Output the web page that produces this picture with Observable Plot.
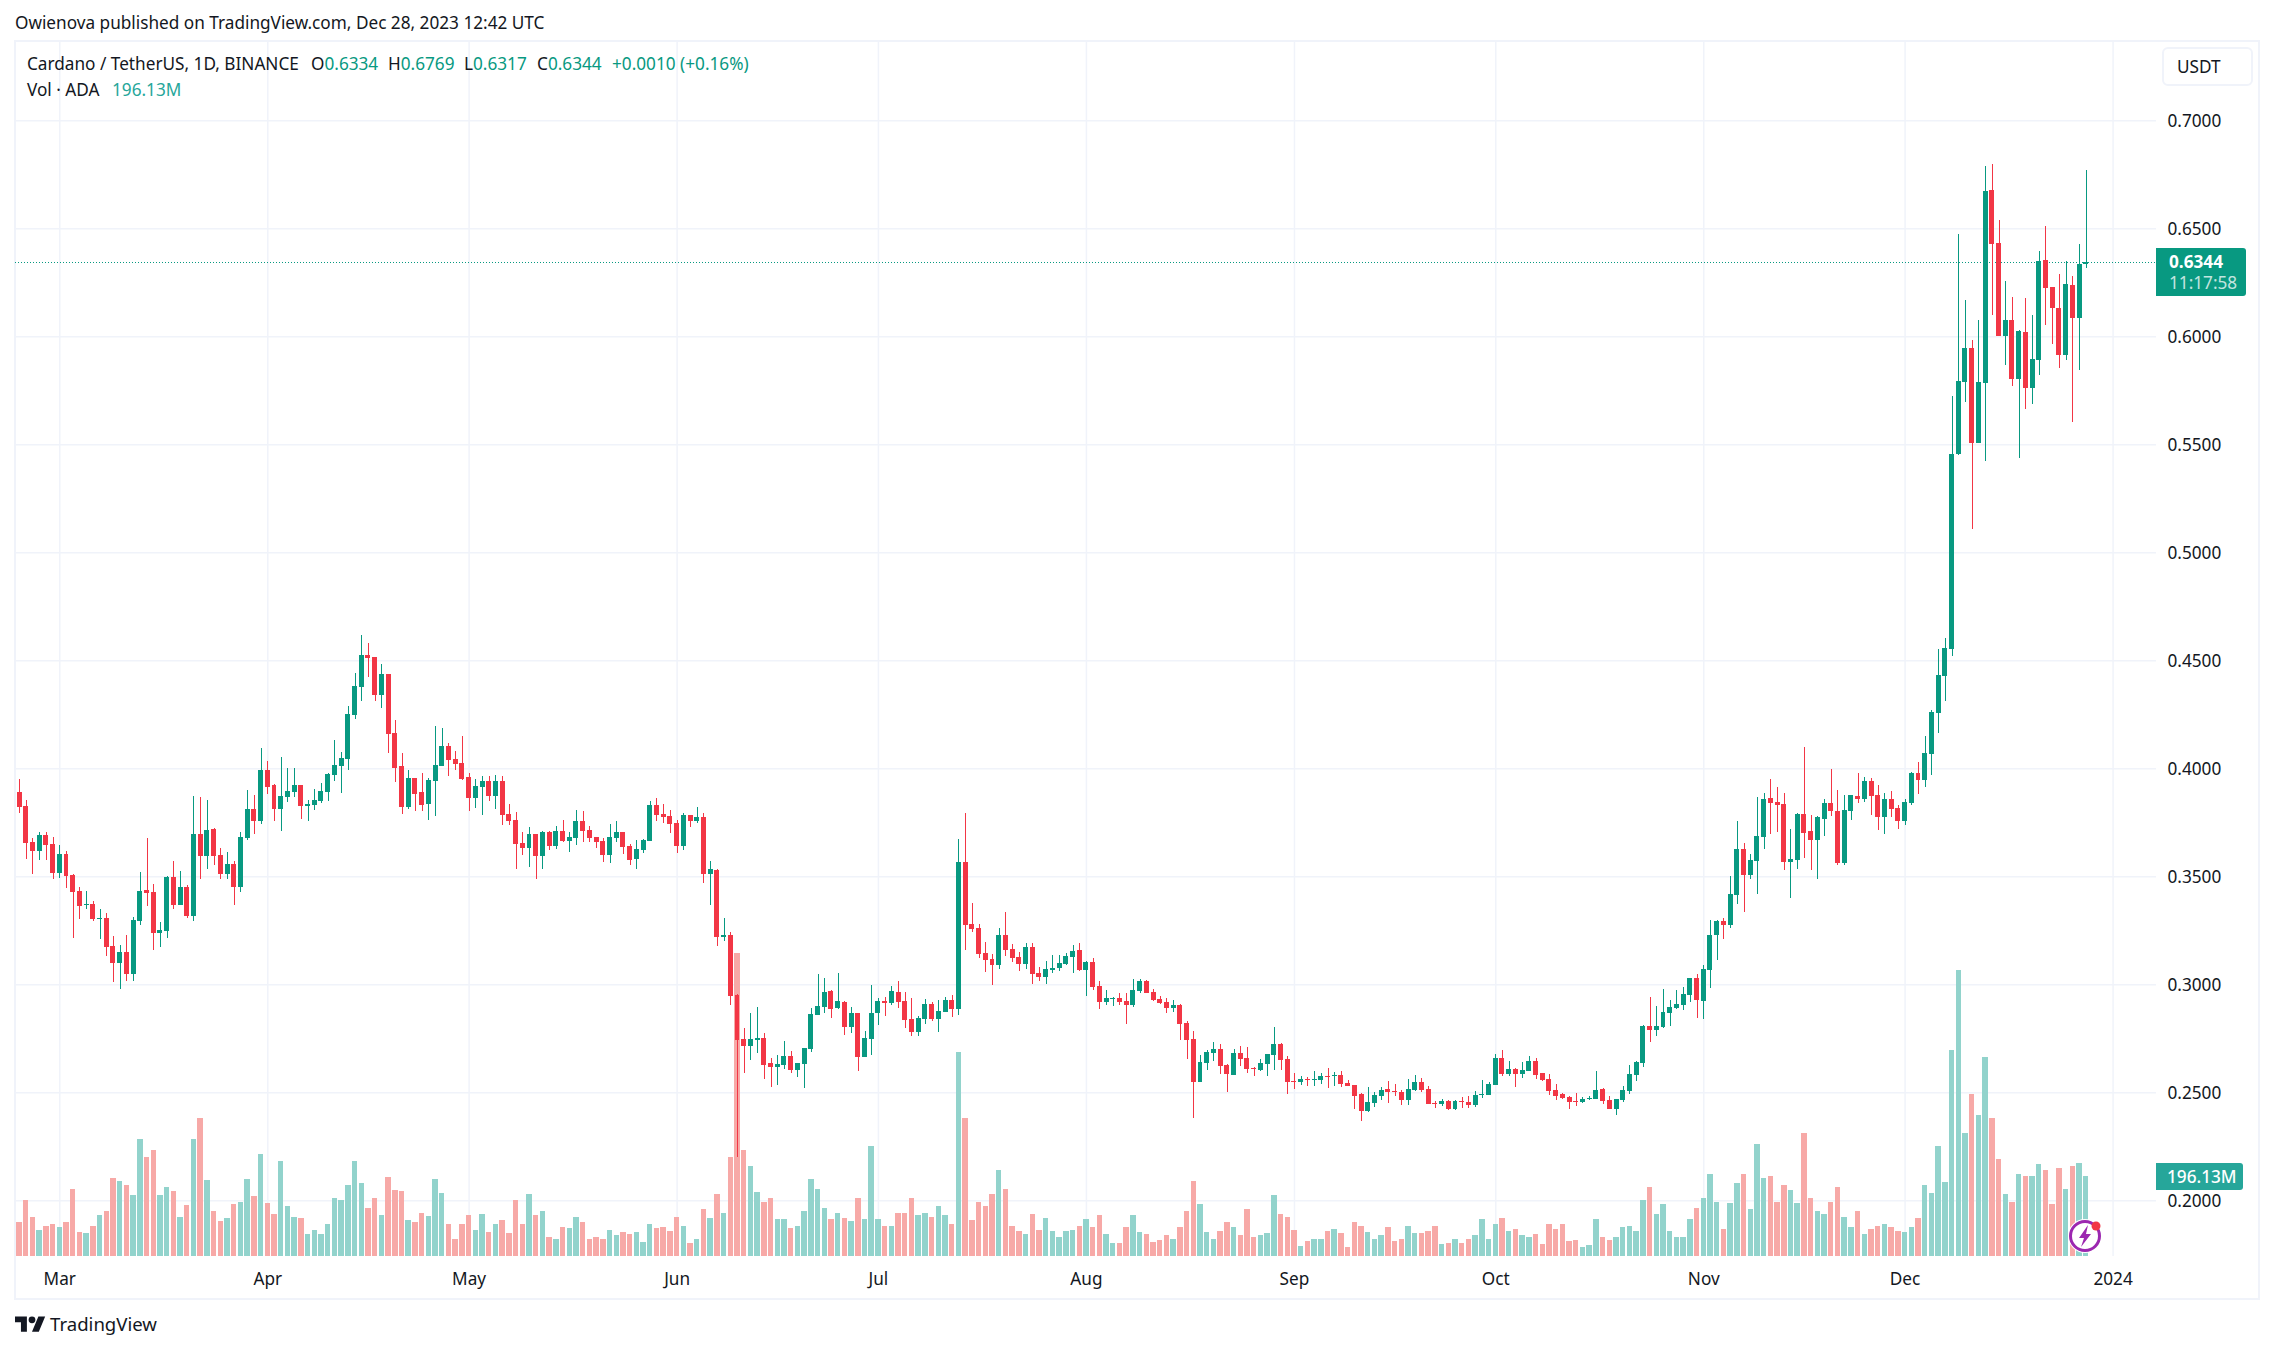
<!DOCTYPE html>
<html><head><meta charset="utf-8">
<script src="https://cdn.jsdelivr.net/npm/d3@7"></script>
<script src="https://cdn.jsdelivr.net/npm/@observablehq/plot@0.6"></script>
<style>
html,body{margin:0;padding:0;background:#fff;width:2273px;height:1351px;overflow:hidden}
body{position:relative;font-family:"Noto Sans",sans-serif;color:#131722;font-size:17.2px}
#frame{position:absolute;left:14px;top:40px;width:2242px;height:1256px;border:2px solid #f0f3fa}
#chart{position:absolute;left:0;top:0}
.t{position:absolute;white-space:pre;line-height:1}
.u{color:#089981}.v{color:#26a69a}
#pbox{position:absolute;left:2156px;top:248px;width:90px;height:48px;background:#089981;border-radius:0 3px 3px 0;color:#fff}
#vbox{position:absolute;left:2156px;top:1163px;width:87px;height:27px;background:#26a69a;border-radius:0 3px 3px 0;color:#fff}
#usdt{position:absolute;left:2162px;top:47px;width:74px;height:35px;padding-left:13px;border:2px solid #f0f3fa;border-radius:6px;text-align:left;line-height:35px}
</style></head><body>
<div id="frame"></div>
<div id="chart"></div>
<div class="t" style="left:15px;top:14px">Owienova published on TradingView.com, Dec 28, 2023 12:42 UTC</div>
<div class="t" style="left:27px;top:55px">Cardano / TetherUS, 1D, BINANCE</div>
<div class="t" style="left:311px;top:55px">O<span class="u">0.6334</span></div>
<div class="t" style="left:388px;top:55px">H<span class="u">0.6769</span></div>
<div class="t" style="left:464px;top:55px">L<span class="u">0.6317</span></div>
<div class="t" style="left:537px;top:55px">C<span class="u">0.6344</span></div>
<div class="t u" style="left:612px;top:55px">+0.0010 (+0.16%)</div>
<div class="t" style="left:27px;top:81px">Vol · ADA</div>
<div class="t v" style="left:112px;top:81px">196.13M</div>
<div id="usdt">USDT</div>
<div id="pbox"><div class="t" style="left:13px;top:5px;font-weight:700">0.6344</div><div class="t" style="left:13px;top:26px;opacity:.75">11:17:58</div></div>
<div id="vbox"><div class="t" style="left:11px;top:5px;font-weight:500">196.13M</div></div>
<svg style="position:absolute;left:15px;top:1312.6px" width="30.6" height="23.8" viewBox="0 0 36 28"><path fill="#131722" d="M14 22H7V11H0V4h14v18zM28 22h-8l7.5-18h8L28 22z"/><circle fill="#131722" cx="20" cy="8" r="4"/></svg>
<div class="t" style="left:50px;top:1315px;font-size:18.6px">TradingView</div>
<svg style="position:absolute;left:2065px;top:1216px" width="40" height="40" viewBox="0 0 40 40">
<circle cx="20" cy="20" r="17" fill="#fff"/><circle cx="20" cy="20" r="14.5" fill="none" stroke="#9c27b0" stroke-width="3"/>
<path d="M23 9 L14 22 H19 L16 31 L26 18 H21 Z" fill="#9c27b0"/><circle cx="31" cy="10" r="4.5" fill="#f23645"/></svg>
<script>
const firstDay = new Date(Date.UTC(2023, 1, 23));
const opens = [.3890,.3826,.3659,.3617,.3691,.3650,.3515,.3603,.3506,.3432,
.3367,.3372,.3303,.3307,.3178,.3099,.3150,.3048,.3293,.3437,
.3427,.3238,.3247,.3497,.3367,.3451,.3316,.3696,.3594,.3719,
.3599,.3511,.3557,.3451,.3677,.3812,.3756,.3992,.3923,.3812,
.3867,.3890,.3923,.3826,.3830,.3849,.3890,.3969,.4011,.4043,
.4247,.4377,.4525,.4515,.4340,.4437,.4164,.4011,.3821,.3955,
.3890,.3835,.3941,.4011,.4103,.4043,.4025,.3960,.3863,.3914,.3941,.3872,
.3941,.3789,.3761,.3654,.3631,.3696,.3594,.3705,.3640,.3710,
.3664,.3677,.3756,.3715,.3682,.3664,.3599,.3677,.3705,.3640,
.3580,.3622,.3664,.3830,.3789,.3779,.3747,.3640,.3784,.3756,
.3775,.3511,.3529,.3219,.3228,.2951,.2747,.2715,.2742,.2752,
.2636,.2617,.2627,.2668,.2603,.2631,.2701,.2858,.2895,.2969,
.2890,.2918,.2802,.2867,.2664,.2747,.2867,.2923,.2914,.2965,
.2923,.2840,.2779,.2840,.2909,.2840,.2872,.2927,.2886,.3566,
.3279,.3261,.3145,.3117,.3090,
.3228,.3164,.3127,.3094,.3173,.3052,.3034,.3066,.3076,.3094,
.3127,.3159,.3066,.3103,.2992,.2918,.2932,.2937,.2923,.2904,
.2969,.3015,.2965,.2932,.2918,.2890,.2904,.2821,.2747,.2548,
.2636,.2682,.2701,.2627,.2580,.2682,.2659,.2613,.2603,.2631,
.2673,.2724,.2654,.2552,.2548,.2562,.2557,.2557,.2576,.2576,
.2580,.2543,.2534,.2492,.2414,.2451,.2483,.2515,.2506,.2502,
.2465,.2511,.2548,.2515,.2451,.2446,.2460,.2423,.2460,.2455,
.2441,.2488,.2488,.2534,
.2659,.2585,.2608,.2585,.2599,.2645,.2590,.2562,.2511,.2492,
.2478,.2460,.2455,.2469,.2469,.2515,.2465,.2423,.2465,.2506,
.2580,.2636,.2807,.2789,.2802,.2867,.2889,.2904,.2951,.3029,
.2923,.3066,.3228,.3293,.3275,.3414,.3627,.3506,.3571,.3682,
.3863,.3844,.3835,.3566,.3576,.3789,.3710,.3668,.3765,.3840,
.3802,.3562,.3802,.3872,.3858,.3941,.3877,.3775,.3858,.3816,
.3756,.3840,.3978,.3946,.4066,.4256,.4429,.4553,.5456,.5786,
.5948,.5504,.5782,.6679,.6433,.6000,.6077,.5800,.6022,.5761,
.5888,.6355,.6226,.6132,.5915,.6238,.6083,.6334];
const closes = [.3821,.3654,.3617,.3691,.3645,.3515,.3603,.3502,.3427,.3363,
.3372,.3303,.3307,.3173,.3099,.3150,.3048,.3298,.3432,.3423,
.3238,.3252,.3497,.3367,.3451,.3316,.3696,.3594,.3715,.3594,
.3511,.3557,.3451,.3682,.3812,.3756,.3992,.3914,.3812,.3872,
.3895,.3923,.3826,.3835,.3853,.3895,.3974,.4015,.4048,.4252,
.4381,.4525,.4511,.4340,.4437,.4159,.4002,.3821,.3955,.3881,
.3830,.3946,.4015,.4103,.4039,.4020,.3951,.3863,.3918,.3941,.3872,.3941,
.3784,.3756,.3650,.3631,.3696,.3594,.3705,.3640,.3710,.3664,
.3682,.3756,.3710,.3677,.3659,.3599,.3682,.3705,.3636,.3576,
.3627,.3668,.3830,.3784,.3775,.3742,.3640,.3784,.3756,.3775,
.3511,.3534,.3219,.3228,.2946,.2742,.2715,.2747,.2752,.2627,
.2617,.2631,.2668,.2603,.2636,.2705,.2863,.2900,.2965,.2886,
.2923,.2802,.2867,.2664,.2752,.2867,.2923,.2914,.2969,.2918,
.2835,.2779,.2844,.2909,.2840,.2877,.2927,.2886,.3566,.3275,
.3256,.3140,.3113,.3090,.3228,
.3159,.3122,.3094,.3173,.3048,.3034,.3071,.3076,.3099,.3131,
.3154,.3066,.3103,.2988,.2918,.2937,.2937,.2918,.2904,.2974,
.3015,.2960,.2927,.2914,.2890,.2904,.2816,.2742,.2548,.2640,
.2687,.2701,.2622,.2585,.2682,.2654,.2608,.2608,.2636,.2677,
.2724,.2650,.2548,.2548,.2562,.2557,.2562,.2576,.2571,.2580,
.2539,.2529,.2483,.2414,.2455,.2488,.2511,.2502,.2502,.2465,
.2515,.2548,.2511,.2446,.2446,.2460,.2423,.2460,.2455,.2441,
.2488,.2492,.2539,.2659,
.2585,.2608,.2585,.2603,.2645,.2580,.2557,.2506,.2483,.2474,
.2455,.2455,.2469,.2474,.2511,.2460,.2423,.2469,.2511,.2585,
.2640,.2807,.2789,.2807,.2872,.2895,.2909,.2955,.3029,.2927,
.3071,.3228,.3293,.3275,.3418,.3627,.3506,.3576,.3687,.3858,
.3840,.3830,.3566,.3580,.3789,.3701,.3668,.3775,.3840,.3802,
.3562,.3807,.3877,.3858,.3941,.3872,.3775,.3858,.3812,.3756,
.3844,.3978,.3946,.4071,.4261,.4433,.4557,.5456,.5791,.5948,
.5504,.5786,.6673,.6429,.6000,.6077,.5800,.6024,.5761,.5897,
.6350,.6222,.6129,.5915,.6244,.6083,.6336,.6344];
const highs = [.3951,.3853,.3677,.3705,.3705,.3682,.3645,.3617,.3511,.3451,
.3432,.3386,.3349,.3330,.3224,.3182,.3228,.3312,.3520,.3677,
.3465,.3289,.3502,.3571,.3525,.3460,.3872,.3867,.3853,.3724,
.3631,.3613,.3571,.3705,.3900,.3877,.4094,.4034,.3927,.4052,
.4002,.4002,.3923,.3853,.3904,.3932,.3978,.4131,.4076,.4289,
.4441,.4617,.4580,.4515,.4483,.4437,.4224,.4071,.3992,.3955,
.3978,.3955,.4196,.4187,.4117,.4080,.4150,.3978,.3951,.3965,.3965,.3969,
.3964,.3835,.3798,.3705,.3728,.3696,.3710,.3710,.3733,.3761,
.3705,.3807,.3802,.3733,.3682,.3677,.3742,.3756,.3705,.3650,
.3668,.3673,.3849,.3863,.3835,.3807,.3761,.3793,.3784,.3821,
.3793,.3571,.3534,.3307,.3242,.2955,.2798,.2867,.2895,.2775,
.2659,.2673,.2738,.2691,.2636,.2705,.2890,.3048,.3029,.2974,
.3052,.2923,.2895,.2867,.2784,.2997,.2937,.2941,.2992,.3015,
.2965,.2937,.2853,.2932,.2918,.2927,.2941,.2951,.3673,.3793,
.3377,.3279,.3196,.3140,.3261,
.3335,.3187,.3150,.3191,.3191,.3080,.3108,.3136,.3136,.3145,
.3182,.3191,.3108,.3122,.3015,.2974,.2941,.2960,.2960,.3025,
.3025,.3020,.2978,.2946,.2937,.2927,.2909,.2830,.2784,.2673,
.2696,.2733,.2724,.2631,.2701,.2715,.2710,.2617,.2654,.2677,
.2802,.2728,.2668,.2590,.2576,.2571,.2599,.2590,.2613,.2594,
.2599,.2557,.2534,.2497,.2525,.2502,.2525,.2552,.2539,.2511,
.2562,.2580,.2566,.2529,.2460,.2469,.2465,.2465,.2478,.2483,
.2506,.2557,.2548,.2677,
.2696,.2645,.2613,.2640,.2668,.2659,.2590,.2585,.2539,.2497,
.2483,.2497,.2478,.2483,.2599,.2520,.2483,.2469,.2529,.2627,
.2645,.2812,.2941,.2900,.2978,.2927,.2974,.2988,.3029,.3048,
.3090,.3298,.3298,.3307,.3502,.3756,.3654,.3603,.3867,.3886,
.3951,.3914,.3886,.3719,.3793,.4099,.3784,.3779,.3858,.3997,
.3900,.3877,.3877,.3978,.3960,.3955,.3923,.3886,.3895,.3830,
.3858,.3983,.4029,.4150,.4270,.4553,.4601,.5725,.6475,.6169,
.5985,.6077,.6788,.6799,.6539,.6258,.6183,.6030,.6175,.6100,
.6396,.6512,.6229,.6286,.6350,.6281,.6429,.6769];
const lows = [.3793,.3580,.3511,.3576,.3576,.3488,.3492,.3446,.3215,.3303,
.3349,.3293,.3210,.3131,.3011,.2978,.3015,.3015,.3275,.3363,
.3159,.3173,.3215,.3349,.3367,.3307,.3293,.3488,.3534,.3553,
.3488,.3488,.3367,.3427,.3668,.3696,.3742,.3881,.3756,.3710,
.3844,.3867,.3765,.3756,.3807,.3840,.3849,.3941,.3886,.3992,
.4228,.4312,.4423,.4312,.4279,.4071,.3937,.3789,.3812,.3802,
.3802,.3761,.3779,.4011,.3965,.3992,.3946,.3802,.3816,.3784,.3849,.3812,
.3738,.3738,.3534,.3599,.3543,.3488,.3534,.3622,.3627,.3659,
.3613,.3645,.3659,.3659,.3631,.3566,.3562,.3659,.3603,.3552,
.3534,.3608,.3664,.3756,.3747,.3701,.3608,.3622,.3728,.3747,
.3469,.3367,.3177,.3201,.2904,.2202,.2590,.2650,.2682,.2562,
.2525,.2534,.2608,.2590,.2571,.2520,.2687,.2858,.2867,.2844,
.2886,.2765,.2775,.2599,.2664,.2673,.2812,.2853,.2904,.2890,
.2798,.2761,.2761,.2816,.2830,.2779,.2872,.2849,.2858,.3159,
.3242,.3122,.3057,.2997,.3071,
.3131,.3103,.3062,.3071,.3002,.3015,.3002,.3052,.3062,.3090,
.3052,.3062,.2946,.2974,.2886,.2904,.2900,.2904,.2816,.2895,
.2960,.2960,.2923,.2909,.2867,.2872,.2742,.2654,.2382,.2548,
.2603,.2645,.2585,.2502,.2580,.2622,.2590,.2576,.2599,.2576,
.2603,.2603,.2492,.2515,.2534,.2529,.2529,.2539,.2520,.2529,
.2525,.2529,.2423,.2367,.2409,.2432,.2465,.2451,.2483,.2441,
.2441,.2506,.2502,.2446,.2427,.2437,.2418,.2418,.2427,.2427,
.2432,.2474,.2488,.2534,
.2576,.2576,.2525,.2566,.2599,.2562,.2552,.2488,.2465,.2469,
.2423,.2437,.2451,.2465,.2469,.2446,.2423,.2395,.2455,.2492,
.2552,.2617,.2733,.2761,.2798,.2807,.2886,.2881,.2918,.2844,
.2840,.2983,.3113,.3210,.3261,.3372,.3335,.3488,.3418,.3627,
.3696,.3705,.3529,.3400,.3534,.3585,.3529,.3488,.3687,.3779,
.3552,.3552,.3761,.3840,.3844,.3784,.3715,.3696,.3775,.3719,
.3738,.3830,.3881,.3914,.3969,.4164,.4313,.4521,.5449,.5694,
.5108,.5504,.5423,.6100,.6000,.5865,.5771,.5437,.5662,.5688,
.5819,.6054,.5966,.5851,.5892,.5602,.5842,.6317];
const volumes = [83,137,95,63,73,78,71,83,164,58,
56,75,100,112,191,184,174,149,289,243,
260,149,171,159,95,125,287,339,186,112,
85,93,127,134,189,147,250,130,103,233,
122,95,93,53,63,53,78,144,139,174,
233,179,117,144,100,194,162,159,88,83,
105,98,189,154,78,43,78,100,63,103,
58,80,88,56,139,80,152,100,110,48,
43,71,68,95,83,41,46,41,63,51,
58,53,58,34,80,68,71,61,95,73,
31,43,
115,93,152,105,245,747,260,221,157,134,
142,90,90,68,73,110,189,166,117,90,
105,93,85,142,90,270,90,75,73,107,
107,144,100,107,95,122,100,80,503,341,
88,134,122,152,213,166,73,61,53,103,
63,93,61,48,61,63,73,90,71,100,
53,31,31,71,100,58,53,34,39,51,
41,71,112,184,127,58,41,61,83,71,
51,115,48,51,56,149,103,95,63,24,
36,43,43,61,66,56,21,83,75,58,
43,51,71,36,43,73,56,56,61,75,
29,31,41,31,41,51,90,43,80,
93,61,66,51,46,53,29,78,66,80,
36,39,21,26,90,46,39,48,71,75,
61,139,171,103,127,61,46,48,90,117,
144,201,134,66,130,179,203,115,275,191,
196,132,174,162,130,304,142,112,103,134,
169,95,71,110,53,66,73,80,71,61,
58,71,93,176,154,270,181,508,705,304,
400,346,489,341,240,152,134,203,198,198,
226,213,127,216,164,221,228,196.13];
const monthStarts = [[2023,2],[2023,3],[2023,4],[2023,5],[2023,6],[2023,7],[2023,8],[2023,9],[2023,10],[2023,11],[2024,0]].map(([y,m]) => new Date(Date.UTC(y,m,1)));
const monthLabels = ["Mar","Apr","May","Jun","Jul","Aug","Sep","Oct","Nov","Dec","2024"];
const priceTicks = [0.20,0.25,0.30,0.35,0.40,0.45,0.50,0.55,0.60,0.65,0.70];
const lastPrice = 0.6344;

const upCandle = "#089981", downCandle = "#f23645";
const upVolume = "#92d3cc", downVolume = "#f7a9a7";
const gridColor = "#f0f3fa";
const day = 864e5;
const xDomain = [new Date(Date.UTC(2023,1,22,9,36)), new Date(Date.UTC(2024,0,7,11,17))];
const yDomain = [0.1742, 0.7367];
const volumeToPrice = d3.scaleLinear().domain([0, 1000]).range([yDomain[0], yDomain[0] + 0.188]);

const bars = opens.map((o,i) => ({
  date: d3.utcDay.offset(firstDay, i),
  open:o, close:closes[i], high:highs[i], low:lows[i], volume:volumes[i],
  up: closes[i] >= o
}));
const halfBody = 0.37 * day, halfVolume = 0.405 * day;

const chart = Plot.plot({
  width: 2273, height: 1351,
  marginLeft: 15, marginRight: 117, marginTop: 41, marginBottom: 95,
  style: {background:"transparent", fontFamily:'"Noto Sans",sans-serif', fontSize:"17.2px", color:"#131722"},
  x: {type:"utc", domain:xDomain},
  y: {type:"linear", domain:yDomain},
  marks: [
    Plot.ruleX(monthStarts, {stroke:gridColor, strokeWidth:1.5}),
    Plot.ruleY(priceTicks, {stroke:gridColor, strokeWidth:1.5}),
    Plot.rectY(bars, {x1:d=>+d.date-halfVolume, x2:d=>+d.date+halfVolume, y1:yDomain[0], y2:d=>volumeToPrice(d.volume), fill:d=>d.up?upVolume:downVolume, shapeRendering:"crispEdges"}),
    Plot.ruleY([lastPrice], {stroke:upCandle, strokeWidth:1, strokeDasharray:"1,2", shapeRendering:"crispEdges"}),
    Plot.ruleX(bars, {x:"date", y1:"low", y2:"high", stroke:d=>d.up?upCandle:downCandle, strokeWidth:1, shapeRendering:"crispEdges"}),
    Plot.rectY(bars, {x1:d=>+d.date-halfBody, x2:d=>+d.date+halfBody, y1:"open", y2:"close", fill:d=>d.up?upCandle:downCandle, shapeRendering:"crispEdges"}),
    Plot.axisX({ticks:monthStarts, tickSize:0, tickPadding:16, tickFormat:d=>monthLabels[monthStarts.findIndex(m=>+m===+d)], label:null, fontSize:17.2}),
    Plot.axisY({anchor:"right", ticks:priceTicks, tickSize:0, tickPadding:11, dy:0.5, tickFormat:d3.format(".4f"), label:null, fontSize:17.2})
  ]
});
document.getElementById("chart").appendChild(chart);
</script>
</body></html>
